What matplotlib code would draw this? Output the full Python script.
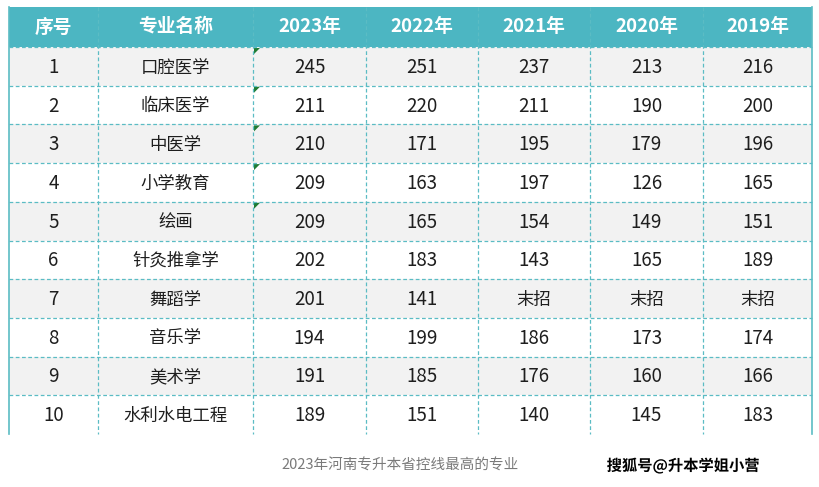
import matplotlib.pyplot as plt
import matplotlib.patheffects as pe
from matplotlib.patches import Rectangle, Polygon

plt.rcParams['font.family'] = ['Noto Sans CJK SC', 'DejaVu Sans']

### TABLE DATA
headers = ['序号', '专业名称', '2023年', '2022年', '2021年', '2020年', '2019年']
rank    = ['1', '2', '3', '4', '5', '6', '7', '8', '9', '10']
majors  = ['口腔医学', '临床医学', '中医学', '小学教育', '绘画',
           '针灸推拿学', '舞蹈学', '音乐学', '美术学', '水利水电工程']
y2023 = ['245', '211', '210', '209', '209', '202', '201', '194', '191', '189']
y2022 = ['251', '220', '171', '163', '165', '183', '141', '199', '185', '151']
y2021 = ['237', '211', '195', '197', '154', '143', '末招', '186', '176', '140']
y2020 = ['213', '190', '179', '126', '149', '165', '末招', '173', '160', '145']
y2019 = ['216', '200', '196', '165', '151', '189', '末招', '174', '166', '183']
flagged = [True, True, True, True, True, False, False, False, False, False]
caption   = '2023年河南专升本省控线最高的专业'
watermark = '搜狐号@升本学姐小营'

### LAYOUT (pixels)
W, H = 819, 487
col_x = [9, 98, 253, 366, 478, 590, 703, 812]
top, head_h, row_h = 7, 40, 38.7
teal = '#4cb6c2'
line = '#5bbcc4'

fig = plt.figure(figsize=(W / 100, H / 100), dpi=100)
ax = fig.add_axes([0, 0, 1, 1])
ax.set_xlim(0, W)
ax.set_ylim(H, 0)
ax.axis('off')

columns = [rank, majors, y2023, y2022, y2021, y2020, y2019]
n = len(rank)
y0 = top + head_h
bottom = y0 + n * row_h

# header
ax.add_patch(Rectangle((col_x[0], top), col_x[-1] - col_x[0], head_h, color=teal, lw=0))
for j, h in enumerate(headers):
    ax.text((col_x[j] + col_x[j + 1]) / 2, top + head_h / 2, h, color='white',
            fontsize=13.5, fontweight='bold', ha='center', va='center')

# rows
for i in range(n):
    ry = y0 + i * row_h
    bg = '#f2f2f2' if i % 2 == 0 else 'white'
    ax.add_patch(Rectangle((col_x[0], ry), col_x[-1] - col_x[0], row_h, color=bg, lw=0))
    for j, col in enumerate(columns):
        s = col[i]
        fs = 13.5 if s.isdigit() else 12.5
        ax.text((col_x[j] + col_x[j + 1]) / 2, ry + row_h / 2 + 1, s,
                color='#1e1e1e', fontsize=fs, ha='center', va='center')
    if flagged[i]:
        x, yy = col_x[2] + 1, ry + 1
        ax.add_patch(Polygon([(x, yy), (x + 6, yy), (x, yy + 6)], color='#1e7b32', lw=0))
    if i > 0:
        ax.plot([col_x[0], col_x[-1]], [ry, ry], ls=(0, (3, 2)), color=line, lw=0.9)

ax.plot([col_x[0], col_x[-1]], [y0, y0], ls=(0, (3, 2)), color=line, lw=0.9)

# vertical grid
for k, x in enumerate(col_x):
    if k == 0 or k == len(col_x) - 1:
        ax.plot([x, x], [top, bottom], color=line, lw=1.2)
    else:
        ax.plot([x, x], [top, bottom], ls=(0, (3, 2)), color=line, lw=0.9)

# caption & watermark
ax.text(400, 466, caption, color='#7a7a7a', fontsize=10.5, ha='center', va='center')
ax.text(683, 466, watermark, color='black', fontsize=11, fontweight='bold',
        ha='center', va='center',
        path_effects=[pe.withStroke(linewidth=2.5, foreground='white')])

fig.savefig('out.png', dpi=100)
